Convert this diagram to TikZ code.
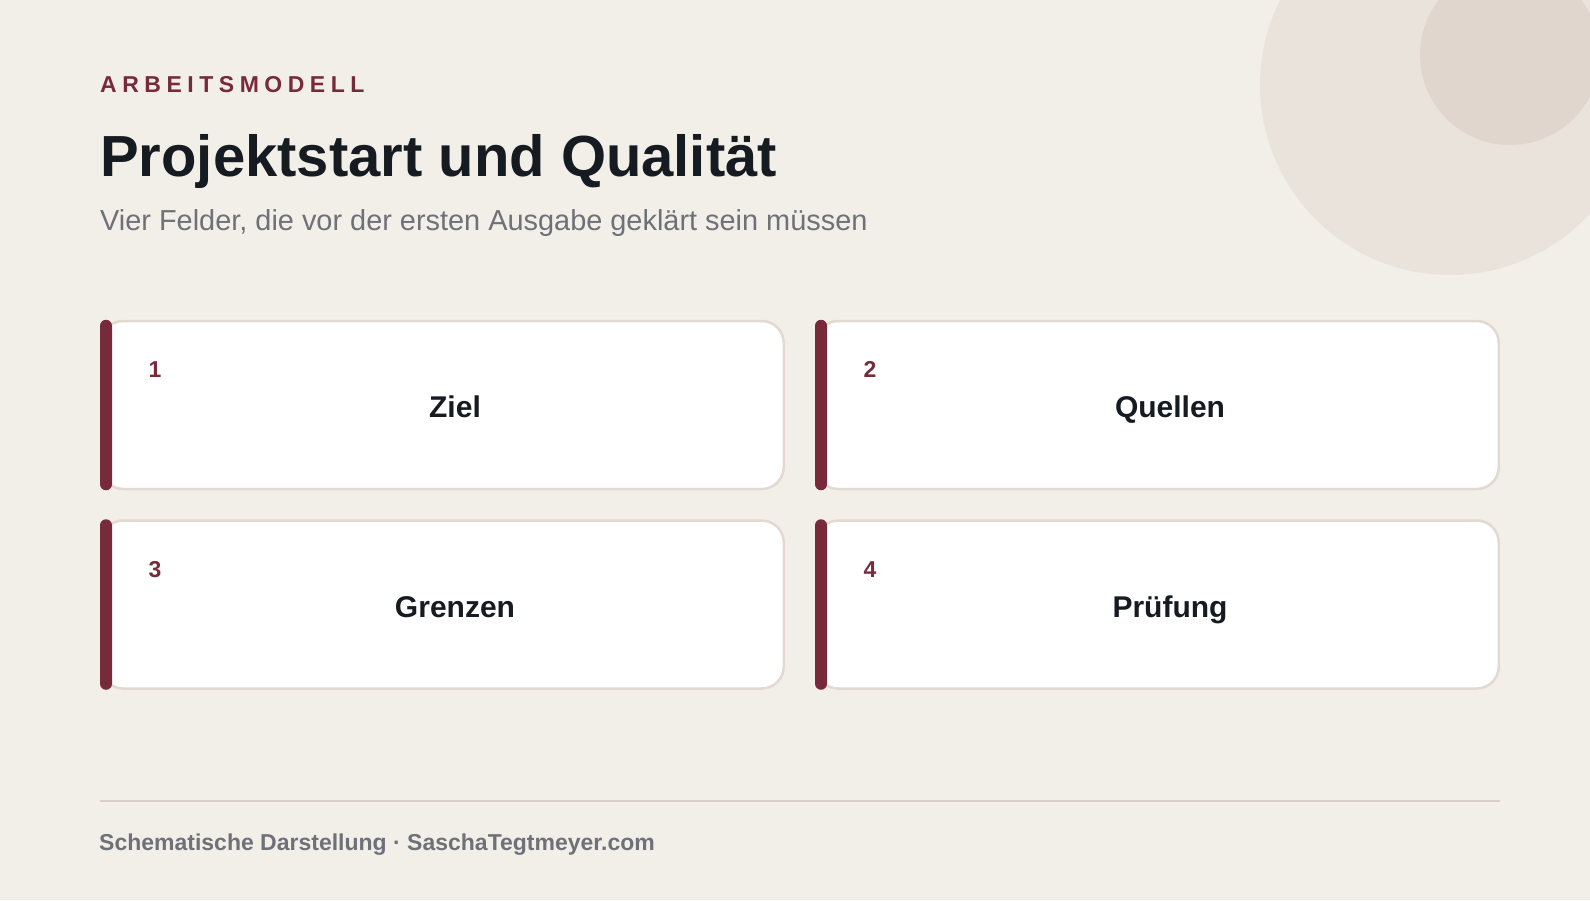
\documentclass[tikz,border=0pt]{standalone}
\usepackage{fontspec}
\setmainfont{Liberation Sans}
\newfontfamily\kickerfont[LetterSpace=24]{Liberation Sans}
\usetikzlibrary{calc}
\usetikzlibrary{positioning}

\definecolor{bgcol}{HTML}{F2EFE9}
\definecolor{ringbig}{HTML}{E9E3DB}
\definecolor{ringsmall}{HTML}{E0D6CD}
\definecolor{accent}{HTML}{772B3A}
\definecolor{ink}{HTML}{161B22}
\definecolor{muted}{HTML}{6E7178}
\definecolor{cardline}{HTML}{E2DAD0}
\definecolor{rule}{HTML}{D8D0C6}

\tikzset{
  txt/.style={inner sep=0pt, anchor=base west},
  card/.style={draw=cardline, line width=2.5pt, fill=white, rounded corners=22pt,
    minimum width=682.5pt, minimum height=168pt, inner sep=0pt},
  bar/.style={fill=accent, rounded corners=6pt},
  num/.style={inner sep=0pt, anchor=base west, text=accent, font=\bfseries\fontsize{23}{23}\selectfont},
  lbl/.style={inner sep=0pt, anchor=base, text=ink, font=\bfseries\fontsize{30}{30}\selectfont},
}

\begin{document}
\begin{tikzpicture}[x=1pt,y=-1pt]
\useasboundingbox (0,0) rectangle (1590,900);
\fill[bgcol] (0,0) rectangle (1590,900);
% circles top right
\fill[ringbig] (1450,85) circle[radius=190];
\fill[ringsmall] (1510,55) circle[radius=90];

% header
\node[txt, text=accent, font=\kickerfont\bfseries\fontsize{23}{23}\selectfont] (kicker) at (100,92) {ARBEITSMODELL};
\node[txt, text=ink, font=\bfseries\fontsize{58}{58}\selectfont] (title) at (100,176) {Projektstart und Qualität};
\node[txt, text=muted, font=\fontsize{28.9}{28.9}\selectfont] (subtitle) at (100,230) {Vier Felder, die vor der ersten Ausgabe geklärt sein müssen};

% cards
\node[card] (ziel) at (442.5,405) {};
\node[card, right=30pt of ziel] (quellen) {};
\node[card, below=29pt of ziel] (grenzen) {};
\node[card, right=30pt of grenzen] (pruefung) {};

\foreach \c/\n/\t in {ziel/1/Ziel, quellen/2/Quellen, grenzen/3/Grenzen, pruefung/4/Prüfung}{
  \fill[bar] (\c.north west) rectangle ($(\c.south west)+(12,0)$);
  \node[num] (\c-num) at ($(\c.north west)+(48.5,58)$) {\n};
  \node[lbl] (\c-lbl) at ($(\c.north)+(12.5,98)$) {\t};
}

% footer
\coordinate (rulestart) at (100,801);
\coordinate (ruleend) at (1500,801);
\draw[rule, line width=2pt] (rulestart) -- (ruleend);
\node[txt, text=muted, font=\bfseries\fontsize{23}{23}\selectfont] (footer) at (99,850) {Schematische Darstellung · SaschaTegtmeyer.com};
\end{tikzpicture}
\end{document}
